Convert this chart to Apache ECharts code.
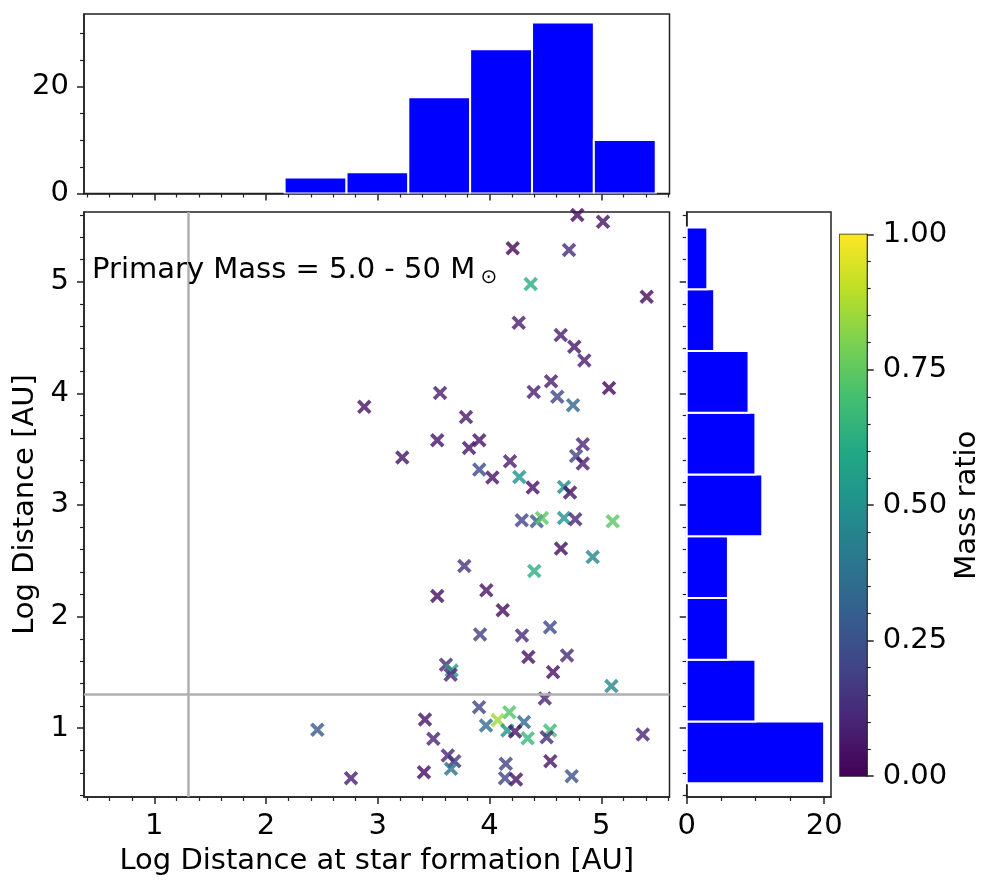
<!DOCTYPE html>
<html><head><meta charset="utf-8">
<script src="https://cdn.jsdelivr.net/npm/echarts@6/dist/echarts.min.js"></script>
<style>html,body{margin:0;padding:0;background:#fff}#c{width:998px;height:891px}</style>
</head><body><div id="c"></div>
<script>
// ---- data ----
const xFormation = [4.785,5.015,4.207,4.711,4.368,5.406,4.261,4.637,4.758,4.848,4.550,5.069,3.557,4.395,4.606,4.747,2.879,3.789,3.532,3.908,3.816,4.834,4.774,4.834,3.219,4.183,3.908,4.025,4.266,4.386,4.666,4.720,4.288,4.422,4.469,4.666,4.767,5.102,4.639,4.923,3.774,4.400,3.971,3.532,4.118,4.541,3.915,4.290,4.347,4.693,4.568,3.610,3.661,3.652,5.090,4.494,3.906,4.177,4.073,4.308,3.422,3.968,4.159,2.459,4.541,4.228,4.511,4.341,3.497,5.371,3.626,3.685,3.655,4.145,4.544,3.413,2.760,4.138,4.237,4.735];
const yDistance = [5.598,5.538,5.300,5.284,4.979,4.865,4.632,4.522,4.417,4.295,4.109,4.047,4.004,4.013,3.969,3.894,3.879,3.787,3.580,3.580,3.511,3.544,3.439,3.371,3.425,3.392,3.317,3.246,3.251,3.156,3.161,3.111,2.863,2.854,2.883,2.883,2.872,2.854,2.609,2.534,2.453,2.408,2.235,2.184,2.056,1.903,1.840,1.831,1.637,1.652,1.502,1.569,1.517,1.479,1.377,1.266,1.188,1.143,1.072,1.054,1.078,1.024,0.979,0.986,0.979,0.970,0.919,0.910,0.905,0.943,0.755,0.704,0.636,0.681,0.704,0.605,0.552,0.552,0.540,0.570];
const massRatio = [0.03,0.05,0.02,0.12,0.62,0.03,0.08,0.08,0.06,0.08,0.08,0.02,0.08,0.08,0.2,0.32,0.05,0.07,0.05,0.05,0.05,0.1,0.2,0.08,0.05,0.08,0.22,0.05,0.5,0.04,0.48,0.05,0.2,0.28,0.74,0.5,0.1,0.74,0.03,0.45,0.15,0.62,0.05,0.03,0.03,0.22,0.18,0.12,0.04,0.12,0.04,0.12,0.55,0.1,0.46,0.1,0.2,0.72,0.85,0.33,0.05,0.35,0.5,0.28,0.68,0.05,0.12,0.66,0.1,0.1,0.1,0.15,0.38,0.2,0.05,0.03,0.08,0.2,0.05,0.25];
const binEdges = [0.506,1.059,1.613,2.166,2.720,3.273,3.826,4.380,4.933,5.487];
const topCounts = [0,0,0,3,4,18,27,32,10];
const rightCounts = [20,10,6,6,11,10,9,4,3];
const refLine = 1.301; // log10(20)

// ---- axis tick values ----
const mainTicks = [1,2,3,4,5];
const mainMinor = [0.4,0.6,0.8,1.2,1.4,1.6,1.8,2.2,2.4,2.6,2.8,3.2,3.4,3.6,3.8,4.2,4.4,4.6,4.8,5.2,5.4,5.6];
const topYTicks = [0,20];
const topYMinor = [5,10,15,25,30];
const rightXTicks = [0,20];
const rightXMinor = [5,10,15];
const cbTicks = [0,0.25,0.5,0.75,1];
const cbMinor = [0.05,0.1,0.15,0.2,0.3,0.35,0.4,0.45,0.55,0.6,0.65,0.7,0.8,0.85,0.9,0.95];

const XMIN = 0.371, XMAX = 5.61, YMIN = 0.383, YMAX = 5.625;
const viridis = ['#440154','#482475','#414487','#355f8d','#2a788e','#21918c','#22a884','#44bf70','#7ad151','#bddf26','#fde725'];

const scatterData = xFormation.map((x,i)=>[x, yDistance[i], massRatio[i]]);
const topData = topCounts.map((c,i)=>[binEdges[i], binEdges[i+1], c]);
const rightData = rightCounts.map((c,i)=>[binEdges[i], binEdges[i+1], c]);

const INK = '#222';
const FS = 29;
const FONT = {fontFamily:'DejaVu Sans', fontSize:FS, color:'#000'};

function ax(o){
  const a = {
    gridIndex:o.g, type:'value', min:o.min, max:o.max, position:o.pos,
    axisLine:{show:!o.minor && !o.hidden, onZero:false, lineStyle:{color:INK, width:1.5}},
    axisTick:{show:!o.hidden && (o.ticks||[]).length>0, inside:false, length:o.minor?4:7,
      customValues:o.ticks||[], lineStyle:{color:INK, width:o.minor?1.2:1.5}},
    axisLabel:{show:!!o.labels, customValues:o.labels?o.ticks:[], margin:o.margin||15,
      fontFamily:FONT.fontFamily, fontSize:FONT.fontSize, color:FONT.color,
      formatter:o.fmt||(v=>String(v))},
    splitLine:{show:false}, minorTick:{show:false}
  };
  if (o.name){
    a.name=o.name; a.nameLocation='middle'; a.nameGap=o.nameGap; a.nameTextStyle=Object.assign({},FONT);
    if (o.nameRotate!==undefined) a.nameRotate=o.nameRotate;
  }
  return a;
}

const G = [
  {left:84, top:212, width:585.5, height:585},      // main
  {left:84, top:14, width:585.5, height:179.5},     // top hist
  {left:686.7, top:212, width:144.3, height:585},   // right hist
  {left:840, top:234.4, width:26.7, height:541.6}   // colorbar
];
const grids = G.map(g=>Object.assign({show:true, borderColor:INK, borderWidth:1.5, backgroundColor:'transparent', containLabel:false}, g))
  .concat(G.map(g=>Object.assign({show:false, containLabel:false}, g)));

const xAxes = [
  ax({g:0,min:XMIN,max:XMAX,pos:'bottom',ticks:mainTicks,labels:true,name:'Log Distance at star formation [AU]',nameGap:50}),
  ax({g:1,min:XMIN,max:XMAX,pos:'bottom',ticks:mainTicks}),
  ax({g:2,min:0,max:21,pos:'bottom',ticks:rightXTicks,labels:true}),
  ax({g:3,min:0,max:1,pos:'bottom',hidden:true}),
  ax({g:4,min:XMIN,max:XMAX,pos:'bottom',ticks:mainMinor,minor:true}),
  ax({g:5,min:XMIN,max:XMAX,pos:'bottom',ticks:mainMinor,minor:true}),
  ax({g:6,min:0,max:21,pos:'bottom',ticks:rightXMinor,minor:true}),
  ax({g:7,min:0,max:1,pos:'bottom',hidden:true})
];
const yAxes = [
  ax({g:0,min:YMIN,max:YMAX,pos:'left',ticks:mainTicks,labels:true,margin:15,name:'Log Distance [AU]',nameGap:41}),
  ax({g:1,min:0,max:33.6,pos:'left',ticks:topYTicks,labels:true,margin:15}),
  ax({g:2,min:YMIN,max:YMAX,pos:'left',ticks:mainTicks}),
  ax({g:3,min:0,max:1,pos:'right',ticks:cbTicks,labels:true,margin:16,fmt:v=>v.toFixed(2),name:'Mass ratio',nameGap:86,nameRotate:90}),
  ax({g:4,min:YMIN,max:YMAX,pos:'left',ticks:mainMinor,minor:true}),
  ax({g:5,min:0,max:33.6,pos:'left',ticks:topYMinor,minor:true}),
  ax({g:6,min:YMIN,max:YMAX,pos:'left',ticks:mainMinor,minor:true}),
  ax({g:7,min:0,max:1,pos:'right',ticks:cbMinor,minor:true})
];

const chart = echarts.init(document.getElementById('c'), null, {renderer:'canvas'});
chart.setOption({
  backgroundColor:'#fff',
  animation:false,
  grid:grids,
  xAxis:xAxes,
  yAxis:yAxes,
  visualMap:{type:'continuous', show:false, min:0, max:1, dimension:2, seriesIndex:0, inRange:{color:viridis}},
  graphic:[
    {type:'text', x:92, y:270, z:100, style:{text:'Primary Mass = 5.0 - 50 M', fontFamily:'DejaVu Sans', fontSize:FS, fill:'#000', verticalAlign:'middle', align:'left'}},
    {type:'text', x:489, y:277.5, z:100, style:{text:'\u2299', fontFamily:'DejaVu Sans', fontSize:20, fill:'#000', verticalAlign:'middle', align:'center'}}
  ],
  series:[
    {type:'scatter', xAxisIndex:0, yAxisIndex:0, data:scatterData, z:3,
     symbol:'path://M0,2.6 L2.6,0 L7,4.4 L11.4,0 L14,2.6 L9.6,7 L14,11.4 L11.4,14 L7,9.6 L2.6,14 L0,11.4 L4.4,7 Z',
     symbolSize:14.5,
     markLine:{silent:true, symbol:'none', label:{show:false}, animation:false,
       lineStyle:{color:'#b0b0b0', width:2.5, type:'solid'},
       data:[{xAxis:refLine},{yAxis:refLine}]}},
    {type:'custom', xAxisIndex:1, yAxisIndex:1, data:topData, encode:{x:[0,1], y:2}, clip:true,
     renderItem:(p,api)=>{
       const c=api.value(2); if(!c) return null;
       const a=api.coord([api.value(0),0]), b=api.coord([api.value(1),c]);
       return {type:'rect', shape:{x:a[0], y:b[1], width:b[0]-a[0], height:a[1]-b[1]}, style:{fill:'#0000ff', stroke:'#fff', lineWidth:2}};
     }},
    {type:'custom', xAxisIndex:2, yAxisIndex:2, data:rightData, encode:{x:2, y:[0,1]}, clip:true,
     renderItem:(p,api)=>{
       const c=api.value(2); if(!c) return null;
       const a=api.coord([0,api.value(0)]), b=api.coord([c,api.value(1)]);
       return {type:'rect', shape:{x:a[0], y:b[1], width:b[0]-a[0], height:a[1]-b[1]}, style:{fill:'#0000ff', stroke:'#fff', lineWidth:2}};
     }},
    {type:'custom', xAxisIndex:3, yAxisIndex:3, data:[[0,0,1,1]], encode:{x:[0,2], y:[1,3]}, z:1,
     renderItem:(p,api)=>{
       const a=api.coord([api.value(0),api.value(1)]), b=api.coord([api.value(2),api.value(3)]);
       return {type:'rect', shape:{x:a[0], y:b[1], width:b[0]-a[0], height:a[1]-b[1]},
         style:{fill:{type:'linear', x:0, y:1, x2:0, y2:0, colorStops:viridis.map((c,i)=>({offset:i/(viridis.length-1), color:c}))}}};
     }}
  ]
});
</script></body></html>
